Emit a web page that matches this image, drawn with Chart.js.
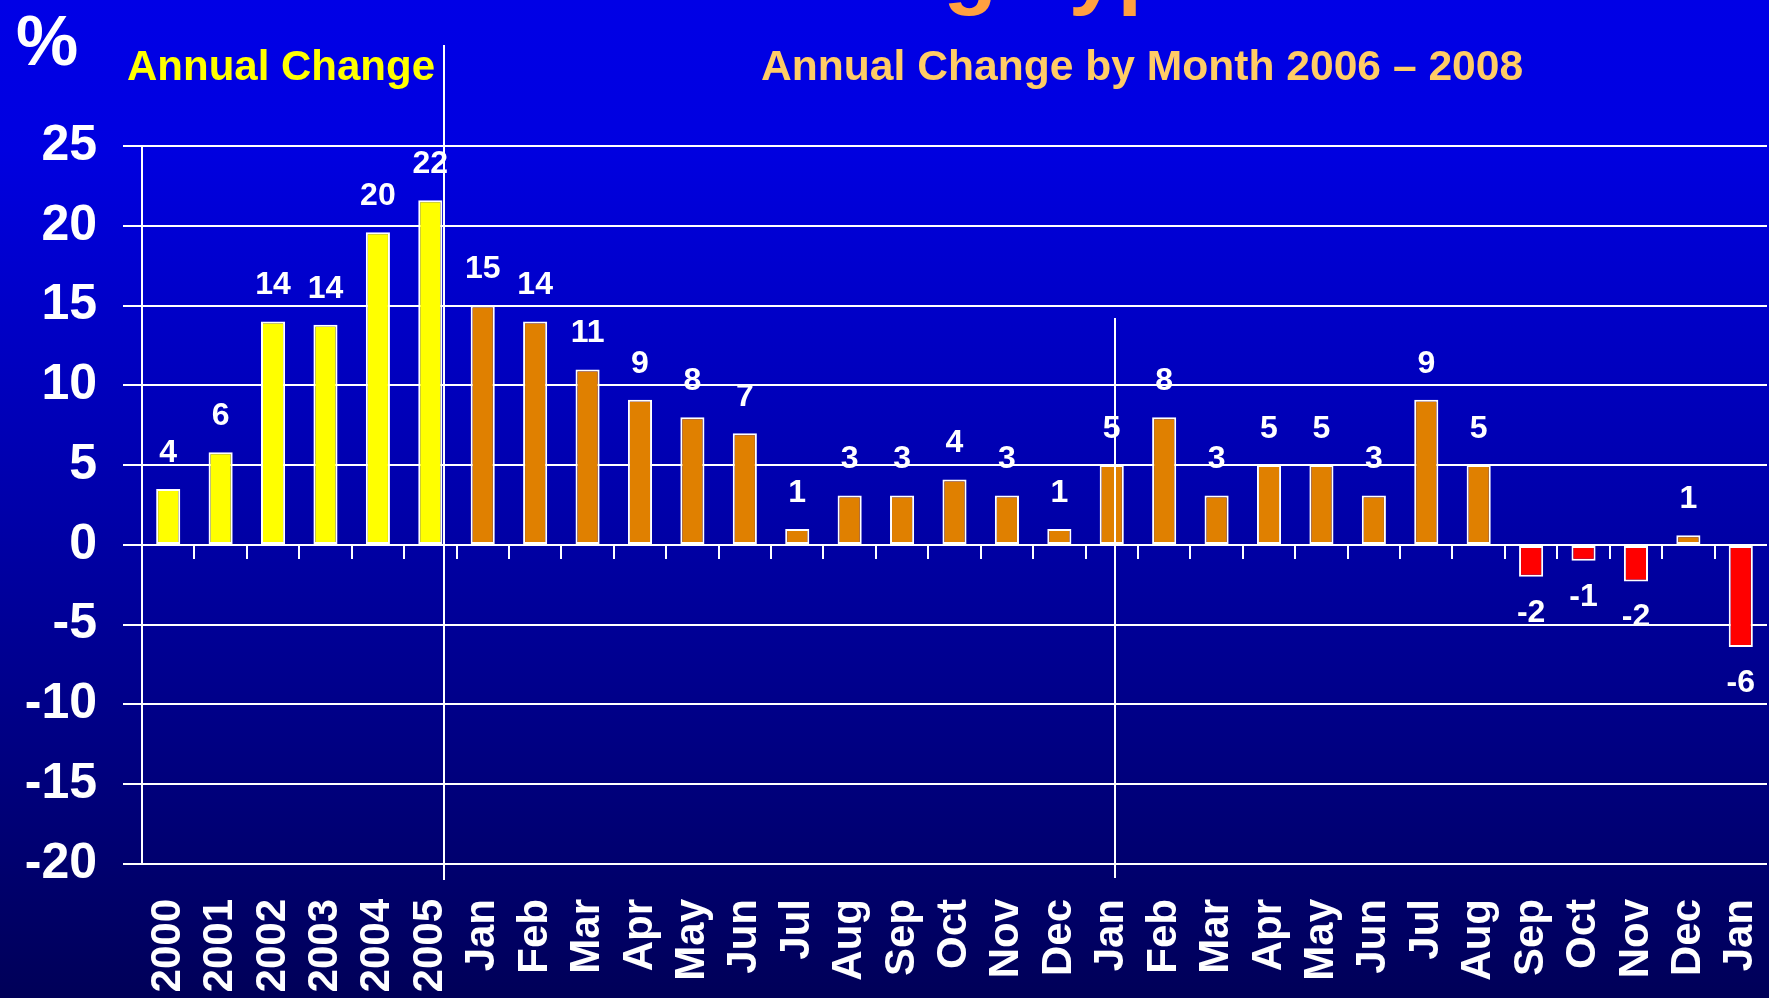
<!DOCTYPE html>
<html>
<head>
<meta charset="utf-8">
<script src="https://cdn.jsdelivr.net/npm/chart.js@4/dist/chart.umd.min.js"></script>
<style>
    html, body { margin: 0; padding: 0; }
    body {
        width: 1769px; height: 998px; overflow: hidden;
        background: linear-gradient(to bottom, #0000e6 0%, #0000e0 15%, #0000a8 52%, #000058 100%);
    }
    #wrap { position: relative; width: 1769px; height: 998px; }
</style>
</head>
<body>
<div id="wrap"><canvas id="barChart"></canvas></div>
<script>
    // annual change 2000-2005, then monthly change Jan 2006 - Jan 2008 (%)
    var yearLabels = ["2000", "2001", "2002", "2003", "2004", "2005"];
    var annualValues = [3.5, 5.8, 14.0, 13.8, 19.6, 21.6];

    var monthLabels = ["Jan", "Feb", "Mar", "Apr", "May", "Jun", "Jul", "Aug", "Sep", "Oct", "Nov", "Dec",
        "Jan", "Feb", "Mar", "Apr", "May", "Jun", "Jul", "Aug", "Sep", "Oct", "Nov", "Dec", "Jan"];
    var monthlyValues = [15.0, 14.0, 11.0, 9.1, 8.0, 7.0, 1.0, 3.1, 3.1, 4.1, 3.1, 1.0,
        5.0, 8.0, 3.1, 5.0, 5.0, 3.1, 9.1, 5.0, -2.0, -1.0, -2.3, 0.6, -6.4];

    var yTicks = [-20, -15, -10, -5, 0, 5, 10, 15, 20, 25];

    var fontFamily = '"Liberation Sans", Arial, sans-serif';

    var categories = yearLabels.concat(monthLabels);
    var values = annualValues.concat(monthlyValues);
    var barColors = values.map(function (v, i) {
        if (i < yearLabels.length) return "#ffff00";
        return v < 0 ? "#ff0000" : "#e08000";
    });

    var overlay = {
        id: 'overlay',
        afterDatasetsDraw: function (chart) {
            var ctx = chart.ctx;
            var x = chart.scales.x, y = chart.scales.y;
            var zero = y.getPixelForValue(0);
            ctx.save();

            // small tick marks under the zero line
            ctx.strokeStyle = "#ffffff";
            ctx.lineWidth = 2;
            for (var i = 1; i < categories.length; i++) {
                var px = Math.round(x.getPixelForValue(i - 0.5));
                ctx.beginPath();
                ctx.moveTo(px, zero);
                ctx.lineTo(px, zero + 14);
                ctx.stroke();
            }

            // separators between the annual part and the monthly part, and 2006 / 2007
            var sep1 = Math.round(x.getPixelForValue(yearLabels.length - 0.74));
            ctx.beginPath();
            ctx.moveTo(sep1, 45);
            ctx.lineTo(sep1, chart.chartArea.bottom + 16);
            ctx.stroke();
            var sep2 = Math.round(x.getPixelForValue(yearLabels.length + 12.07));
            ctx.beginPath();
            ctx.moveTo(sep2, 318);
            ctx.lineTo(sep2, chart.chartArea.bottom + 14);
            ctx.stroke();

            // value labels
            ctx.fillStyle = "#ffffff";
            ctx.font = "bold 32px " + fontFamily;
            ctx.textAlign = "center";
            ctx.textBaseline = "middle";
            chart.getDatasetMeta(0).data.forEach(function (bar, i) {
                var v = values[i];
                var ly = v >= 0 ? bar.y - 36 : bar.y + 36;
                ctx.fillText(String(Math.round(v)), bar.x, ly);
            });

            // headings
            ctx.textAlign = "left";
            ctx.textBaseline = "alphabetic";
            ctx.fillStyle = "#ffa040";
            ctx.font = "bold 88px " + fontFamily;
            ctx.fillText("Housing Type", 645, -2);

            ctx.fillStyle = "#ffffff";
            ctx.font = "bold 70px " + fontFamily;
            ctx.fillText("%", 16, 65);

            ctx.font = "bold 42px " + fontFamily;
            ctx.fillStyle = "#ffff00";
            ctx.fillText("Annual Change", 127, 80);
            ctx.fillStyle = "#ffcc66";
            ctx.font = "bold 42.6px " + fontFamily;
            ctx.fillText("Annual Change by Month 2006 \u2013 2008", 761, 80);

            ctx.restore();
        }
    };

    var barData = {
        labels: categories,
        datasets: [{
            data: values,
            backgroundColor: barColors,
            borderColor: "#ffffff",
            borderWidth: 2,
            borderSkipped: false,
            categoryPercentage: 1.0,
            barPercentage: 0.46
        }]
    };

    var barOptions = {
        responsive: true,
        maintainAspectRatio: false,
        animation: false,
        layout: { padding: { left: 0, right: 2, top: 146, bottom: 0 } },
        plugins: { legend: { display: false }, tooltip: { enabled: false } },
        scales: {
            x: {
                type: 'category',
                grid: { display: false, drawTicks: false },
                border: { display: false },
                ticks: {
                    color: "#ffffff",
                    font: { family: fontFamily, size: 42, weight: 'bold' },
                    minRotation: 90,
                    maxRotation: 90,
                    autoSkip: false,
                    padding: 35
                },
                afterFit: function (scale) {
                    scale.height = 134;
                    scale.paddingLeft = 0;
                    scale.paddingRight = 0;
                }
            },
            y: {
                min: yTicks[0],
                max: yTicks[yTicks.length - 1],
                afterBuildTicks: function (scale) {
                    scale.ticks = yTicks.map(function (v) { return { value: v }; });
                },
                grid: { color: "#ffffff", lineWidth: 2, tickLength: 19, tickColor: "#ffffff" },
                border: { display: true, color: "#ffffff", width: 2 },
                ticks: {
                    color: "#ffffff",
                    font: { family: fontFamily, size: 50, weight: 'bold' },
                    padding: 26
                },
                afterFit: function (scale) { scale.width = 142; }
            }
        }
    };

    var ctx = document.getElementById("barChart").getContext("2d");
    new Chart(ctx, { type: 'bar', data: barData, options: barOptions, plugins: [overlay] });
</script>
</body>
</html>
